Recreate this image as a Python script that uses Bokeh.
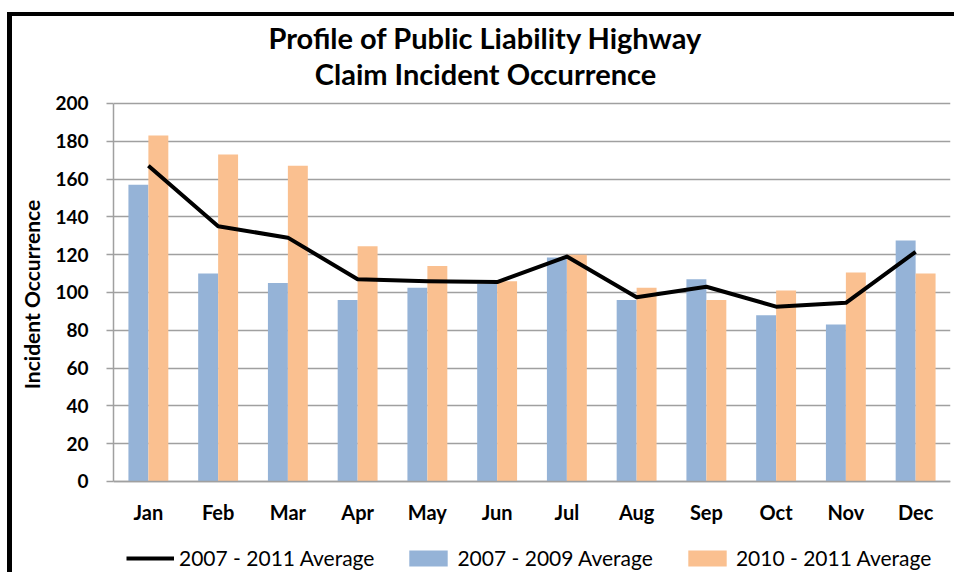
from bokeh.plotting import figure
from bokeh.models import ColumnDataSource, FactorRange, Legend, LegendItem, Label, Range1d
from bokeh.transform import dodge
from bokeh.embed import file_html
from bokeh.resources import INLINE

months = ["Jan", "Feb", "Mar", "Apr", "May", "Jun", "Jul", "Aug", "Sep", "Oct", "Nov", "Dec"]
avg_2007_2011 = [167, 135, 129, 107, 106, 105.5, 119, 97.5, 103, 92.5, 94.5, 121.5]
avg_2007_2009 = [157, 110, 105, 96, 102.5, 104.5, 118.5, 96, 107, 88, 83, 127.5]
avg_2010_2011 = [183, 173, 167, 124.5, 114, 106, 120, 102.5, 96, 101, 110.5, 110]
y_ticks = [0, 20, 40, 60, 80, 100, 120, 140, 160, 180, 200]
title_lines = ["Profile of Public Liability Highway", "Claim Incident Occurrence"]

src = ColumnDataSource(dict(month=months, a=avg_2007_2011, b=avg_2007_2009, c=avg_2010_2011))

FONT = "Lato"
BLUE = "#95B3D7"
ORANGE = "#FAC090"
GRID = "#A0A0A0"

# frame spans the whole chart height; value axis kept to 0..200
p = figure(frame_width=837, frame_height=556, x_range=FactorRange(*months, range_padding=0),
           y_range=Range1d(-48.15, 246.0), output_backend="svg", toolbar_location=None,
           min_border_left=101, min_border_right=4, min_border_top=0, min_border_bottom=0)
p.outline_line_color = None
p.styles = {"border-left": "5px solid black", "border-top": "4px solid black",
            "margin-left": "7px", "margin-top": "12px"}

bw = 0.286
rb = p.vbar(x=dodge("month", -bw / 2, range=p.x_range), top="b", width=bw, source=src,
            fill_color=BLUE, line_color=None)
ro = p.vbar(x=dodge("month", bw / 2, range=p.x_range), top="c", width=bw, source=src,
            fill_color=ORANGE, line_color=None)
rl = p.line(x="month", y="a", source=src, line_color="black", line_width=4, line_join="round")

# value axis
p.yaxis.ticker = y_ticks
p.yaxis.bounds = (0, 200)
p.yaxis.major_label_text_font = FONT
p.yaxis.major_label_text_font_style = "bold"
p.yaxis.major_label_text_font_size = "19px"
p.yaxis.major_label_text_color = "black"
p.yaxis.major_tick_out = 7
p.yaxis.major_tick_in = 0
p.yaxis.minor_tick_line_color = None
p.yaxis.major_label_standoff = 18
p.yaxis.axis_line_color = GRID
p.yaxis.axis_line_width = 1.5
p.yaxis.major_tick_line_color = GRID
p.yaxis.major_tick_line_width = 1.5
p.yaxis.axis_label = "Incident Occurrence"
p.yaxis.axis_label_text_font = FONT
p.yaxis.axis_label_text_font_style = "bold"
p.yaxis.axis_label_text_font_size = "21px"
p.yaxis.axis_label_text_color = "black"
p.yaxis.axis_label_standoff = 8

# category axis sits at value 0
p.xaxis.fixed_location = 0
p.xaxis.major_label_text_font = FONT
p.xaxis.major_label_text_font_style = "bold"
p.xaxis.major_label_text_font_size = "20px"
p.xaxis.major_label_text_color = "black"
p.xaxis.major_tick_out = 0
p.xaxis.major_tick_in = 0
p.xaxis.major_label_standoff = 19
p.xaxis.axis_line_color = GRID
p.xaxis.axis_line_width = 1.5

p.xgrid.grid_line_color = None
p.ygrid.grid_line_color = GRID
p.ygrid.grid_line_width = 1.5
p.ygrid.ticker = y_ticks

# two-line title, centred over the chart area
for txt, ypos in zip(title_lines, [535, 499]):
    p.add_layout(Label(x=372, y=ypos, x_units="screen", y_units="screen", text=txt,
                       text_align="center", text_baseline="middle",
                       text_font=FONT, text_font_style="bold", text_font_size="29px",
                       text_color="black"))

legend = Legend(items=[LegendItem(label="2007 - 2011 Average", renderers=[rl]),
                       LegendItem(label="2007 - 2009 Average", renderers=[rb]),
                       LegendItem(label="2010 - 2011 Average", renderers=[ro])],
                orientation="horizontal", location=(13, 2),
                glyph_width=48, glyph_height=20, label_standoff=5, spacing=30,
                padding=0, margin=0, border_line_color=None, background_fill_alpha=0,
                label_text_font=FONT, label_text_font_size="21px", label_text_color="black")
p.add_layout(legend, "center")

open("out.html", "w").write(file_html(p, INLINE))
